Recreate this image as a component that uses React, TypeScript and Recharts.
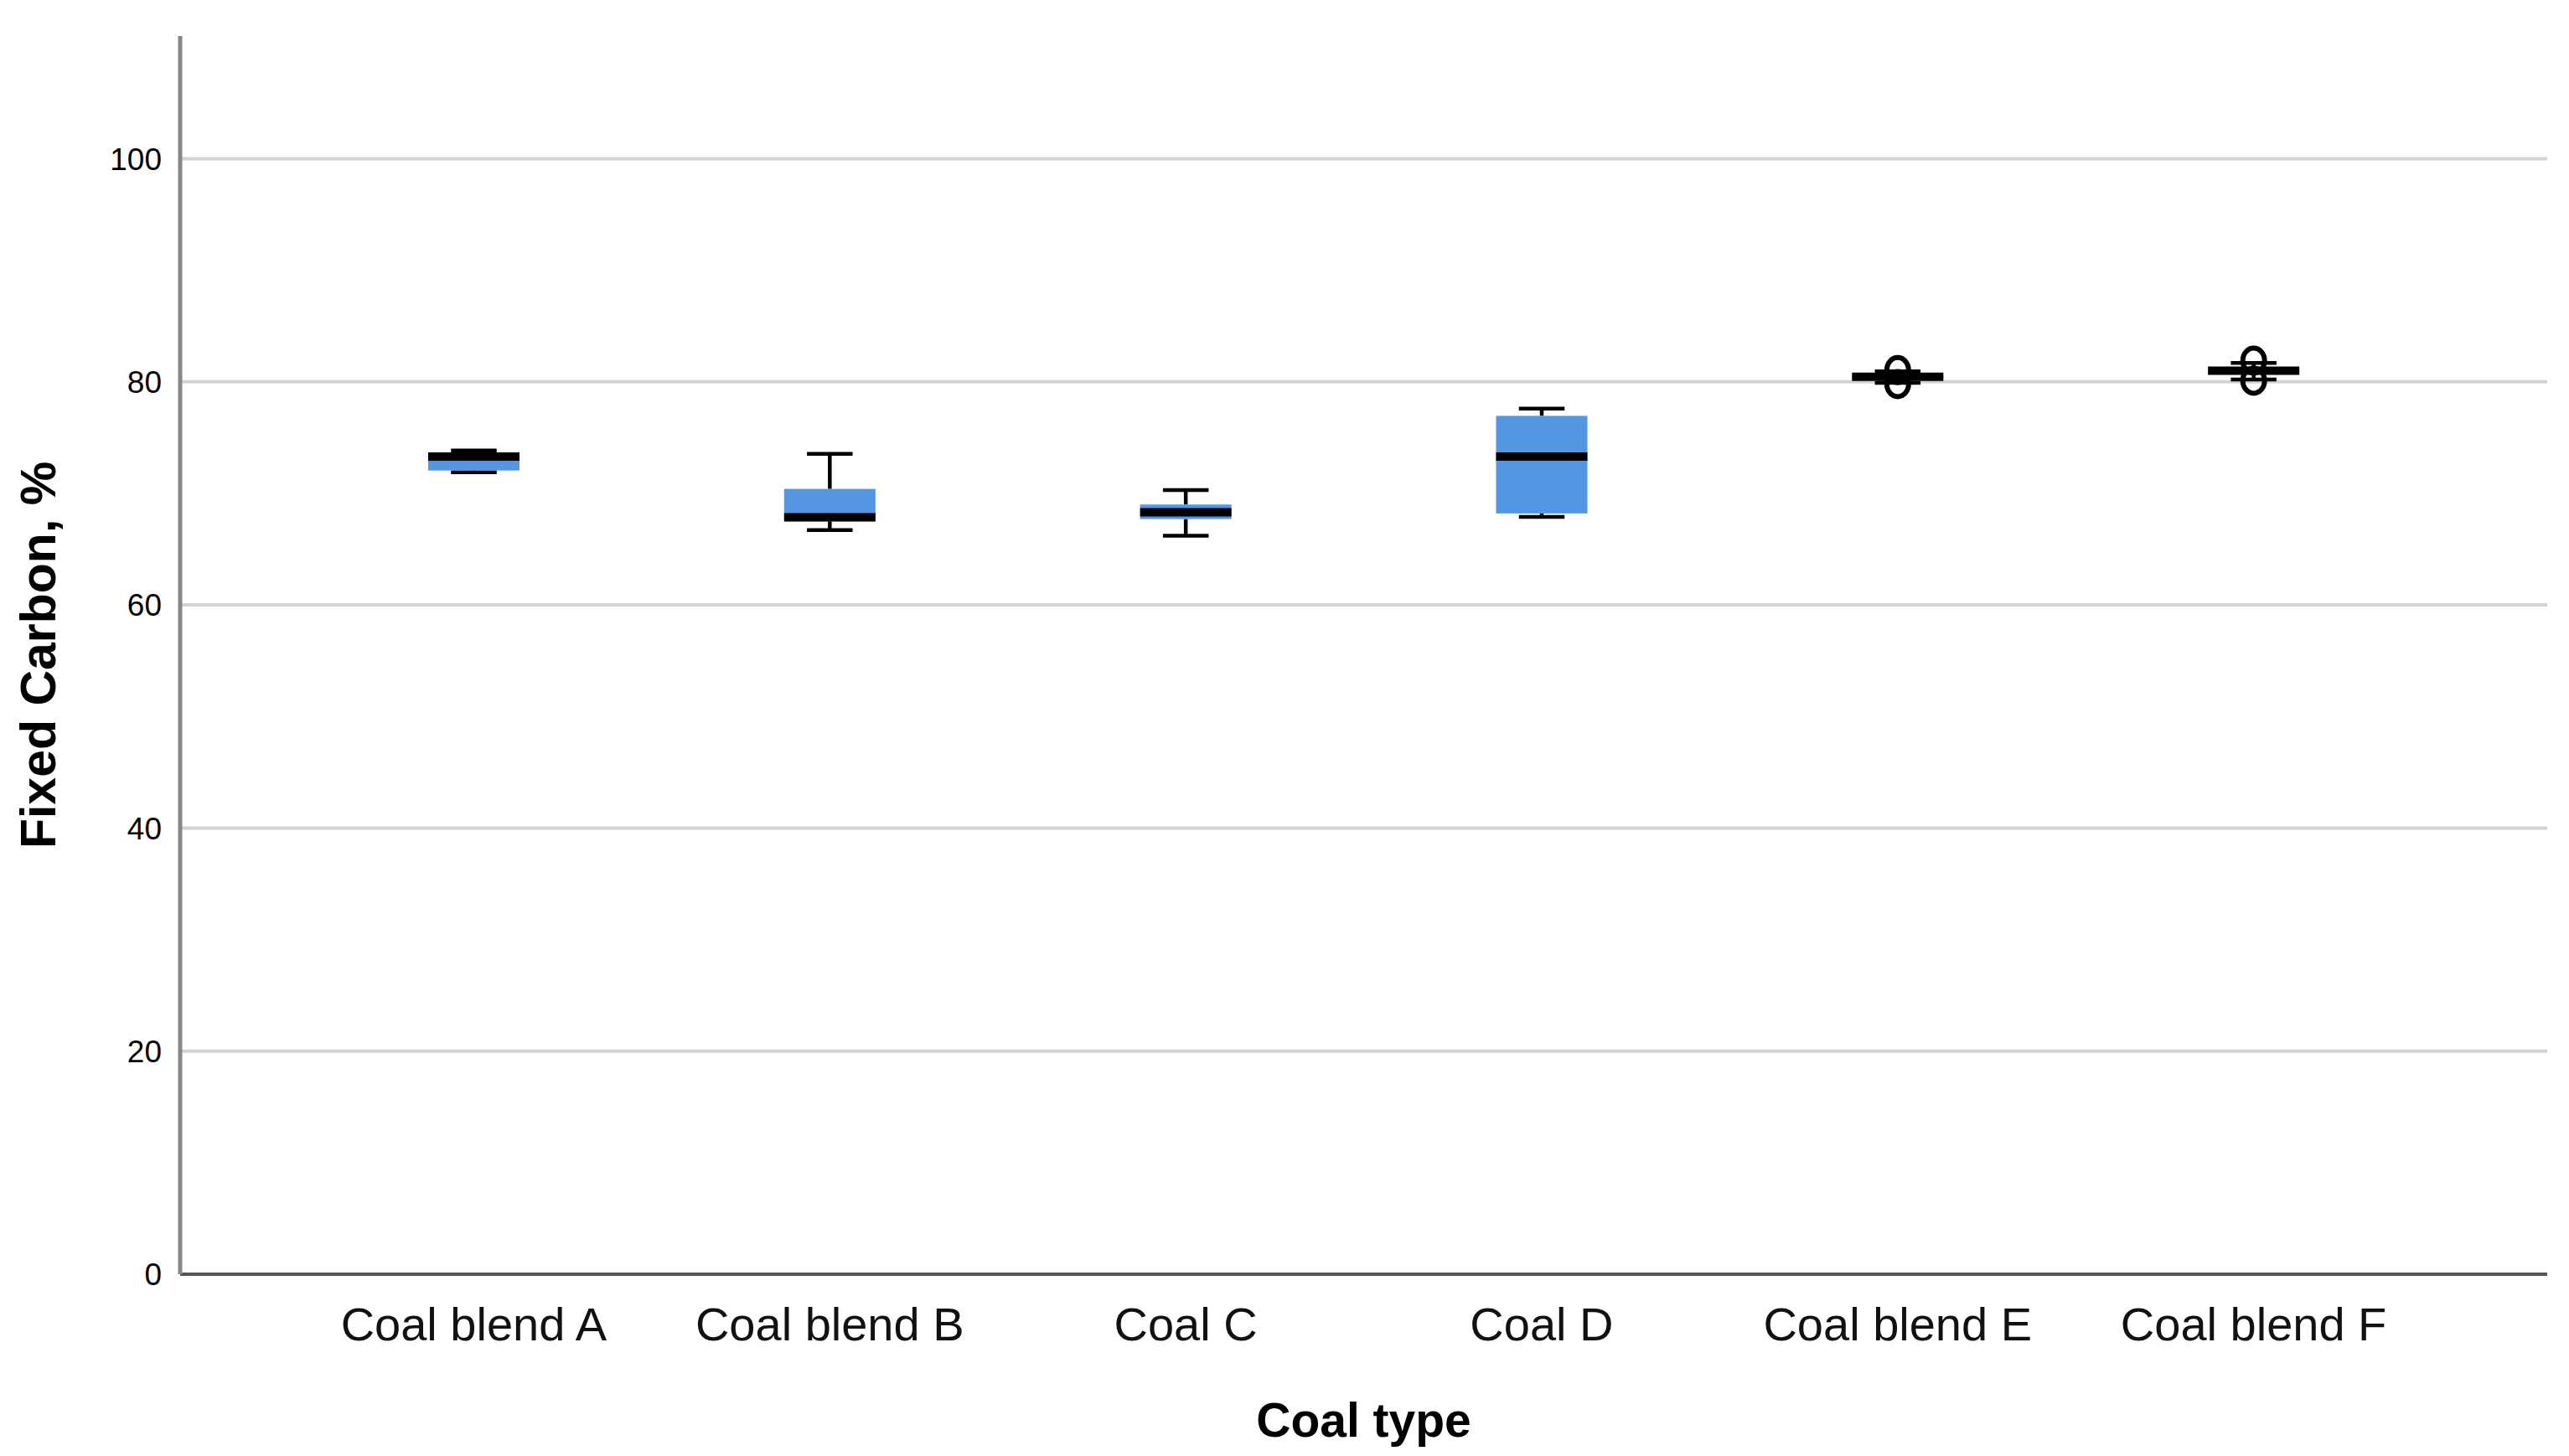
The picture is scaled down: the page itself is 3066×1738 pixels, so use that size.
import React from 'react';
import { ComposedChart, Bar, XAxis, YAxis, CartesianGrid } from 'recharts';

const categories = ['Coal blend A', 'Coal blend B', 'Coal C', 'Coal D', 'Coal blend E', 'Coal blend F'];
const minValues = [71.9, 66.7, 66.2, 67.9, 79.9, 80.2];
const q1Values = [72.05, 67.5, 67.7, 68.2, 80.35, 80.9];
const medianValues = [73.3, 67.85, 68.3, 73.3, 80.45, 81.0];
const q3Values = [73.6, 70.4, 69.0, 76.95, 80.55, 81.1];
const maxValues = [73.85, 73.55, 70.3, 77.6, 80.95, 81.7];
const outlierValues: number[][] = [[], [], [], [], [81.05, 79.8], [81.9, 80.1]];
const yTicks = [0, 20, 40, 60, 80, 100];
const yDomain = [0, 111];

const data = categories.map((name, i) => ({
  name,
  min: minValues[i],
  q1: q1Values[i],
  median: medianValues[i],
  q3: q3Values[i],
  max: maxValues[i],
  outliers: outlierValues[i],
}));

const FONT = '"Liberation Sans", Arial, Helvetica, sans-serif';
const BOX_FILL = '#5596E3';

const BoxShape = (props: any) => {
  const { x, y, width, height, payload } = props;
  if (!payload || !height) return null;
  const k = height / payload.max;
  const base = y + height;
  const py = (v: number) => base - v * k;
  const cx = x + width / 2;
  const capHalf = width / 4;
  return (
    <g>
      <line x1={cx} x2={cx} y1={py(payload.max)} y2={py(payload.q3)} stroke="#000" strokeWidth={4.5} />
      <line x1={cx} x2={cx} y1={py(payload.q1)} y2={py(payload.min)} stroke="#000" strokeWidth={4.5} />
      <line x1={cx - capHalf} x2={cx + capHalf} y1={py(payload.max)} y2={py(payload.max)} stroke="#000" strokeWidth={4.5} />
      <line x1={cx - capHalf} x2={cx + capHalf} y1={py(payload.min)} y2={py(payload.min)} stroke="#000" strokeWidth={4.5} />
      <rect x={x} y={py(payload.q3)} width={width} height={Math.max(1, py(payload.q1) - py(payload.q3))} fill={BOX_FILL} />
      <line x1={x} x2={x + width} y1={py(payload.median)} y2={py(payload.median)} stroke="#000" strokeWidth={10} />
      {payload.outliers.map((v: number, j: number) => (
        <ellipse key={j} cx={cx} cy={py(v)} rx={13} ry={15} fill="none" stroke="#000" strokeWidth={6} />
      ))}
    </g>
  );
};

const YTick = (props: any) => {
  const { x, y, payload } = props;
  return (
    <text x={x - 22} y={y} dy="0.36em" textAnchor="end" fontFamily={FONT} fontSize={37} fill="#000">
      {payload.value}
    </text>
  );
};

const XTick = (props: any) => {
  const { x, y, payload } = props;
  return (
    <text x={x} y={y + 79} textAnchor="middle" fontFamily={FONT} fontSize={56} fill="#111">
      {payload.value}
    </text>
  );
};

const YTitle = (props: any) => {
  const vb = props.viewBox || {};
  const cy = vb.y + vb.height / 2;
  const tx = 66;
  return (
    <text x={tx} y={cy} transform={`rotate(-90, ${tx}, ${cy})`} textAnchor="middle" fontFamily={FONT} fontSize={59} fontWeight="bold" fill="#000">
      Fixed Carbon, %
    </text>
  );
};

const XTitle = (props: any) => {
  const vb = props.viewBox || {};
  return (
    <text x={vb.x + vb.width / 2} y={vb.y + 194} textAnchor="middle" fontFamily={FONT} fontSize={57} fontWeight="bold" fill="#000">
      Coal type
    </text>
  );
};

export default function App() {
  return (
    <div style={{ position: 'absolute', top: 0, left: 0, width: 3066, height: 1738, background: '#fff' }}>
      <ComposedChart width={3066} height={1738} data={data} margin={{ top: 43, right: 26, left: 0, bottom: 0 }}>
        <CartesianGrid vertical={false} horizontalValues={yTicks} stroke="#D3D3D3" strokeWidth={4} />
        <XAxis
          dataKey="name"
          type="category"
          height={217}
          padding={{ left: 138, right: 138 }}
          tickLine={false}
          tickSize={0}
          tickMargin={0}
          axisLine={{ stroke: '#555', strokeWidth: 4 }}
          tick={<XTick />}
          interval={0}
          label={<XTitle />}
        />
        <YAxis
          type="number"
          domain={yDomain}
          ticks={yTicks}
          width={215}
          tickLine={false}
          tickSize={0}
          tickMargin={0}
          axisLine={{ stroke: '#888', strokeWidth: 5 }}
          tick={<YTick />}
          allowDataOverflow
          label={<YTitle />}
        />
        <Bar dataKey="max" barSize={109} shape={<BoxShape />} isAnimationActive={false} />
      </ComposedChart>
    </div>
  );
}
